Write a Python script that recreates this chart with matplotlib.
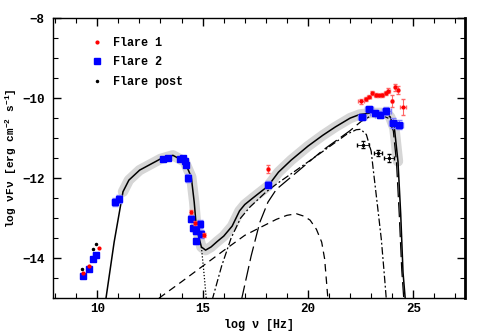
import matplotlib
matplotlib.use("Agg")
import matplotlib.pyplot as plt
from matplotlib.lines import Line2D
import numpy as np

plt.rcParams['font.family'] = ['Liberation Mono', 'DejaVu Sans']
plt.rcParams['font.weight'] = 'bold'
plt.rcParams['mathtext.fontset'] = 'custom'
plt.rcParams['mathtext.rm'] = 'Liberation Mono:bold'
plt.rcParams['mathtext.it'] = 'Liberation Mono:bold'
plt.rcParams['mathtext.bf'] = 'Liberation Mono:bold'

nan = np.nan

# --- data: Flare 1 (red)
f1_x = [9.32, 9.6, 10.08, 14.46, 14.62, 15.05, 18.1,
        22.53, 22.74, 22.89, 23.05, 23.21, 23.37, 23.53, 23.69, 23.81, 23.98, 24.11, 24.27, 24.51]
f1_y = [-14.37, -14.19, -13.75, -12.85, -13.11, -13.43, -11.78,
        -10.08, -10.02, -9.96, -9.87, -9.92, -9.93, -9.92, -9.86, -9.81, -10.06, -9.73, -9.79, -10.21]
f1_xerr = [nan, nan, nan, nan, nan, nan, 0.05,
           0.15, 0.08, 0.08, 0.08, 0.08, 0.08, 0.08, 0.08, 0.08, 0.05, 0.05, 0.05, 0.15]
f1_yerr = [nan, nan, nan, 0.05, 0.05, 0.05, 0.1,
           0.06, 0.05, 0.04, 0.04, 0.04, 0.04, 0.05, 0.05, 0.06, 0.15, 0.08, 0.1, 0.2]

# --- data: Flare 2 (blue)
f2_x = [9.32, 9.6, 9.79, 9.92, 10.82, 11.03,
        13.12, 13.35, 13.91, 14.07, 14.15, 14.23, 14.3,
        14.46, 14.54, 14.7, 14.86, 14.94, 14.7, 18.1,
        22.57, 22.89, 23.16, 23.4, 23.72, 24.03, 24.32]
f2_y = [-14.44, -14.27, -14.01, -13.92, -12.6, -12.53,
        -11.51, -11.49, -11.52, -11.5, -11.58, -11.66, -11.99,
        -13.01, -13.24, -13.32, -13.15, -13.4, -13.57, -12.16,
        -10.47, -10.27, -10.37, -10.41, -10.33, -10.62, -10.66]
f2_xerr = [0.1, 0.1, 0.1, 0.1, 0.1, 0.1,
           0.05, 0.05, 0.05, 0.05, 0.05, 0.05, 0.05,
           0.05, 0.05, 0.05, 0.05, 0.05, 0.05, 0.15,
           0.2, 0.2, 0.2, 0.2, 0.2, 0.2, 0.2]
f2_yerr = [0.03, 0.03, 0.03, 0.03, 0.1, 0.1,
           0.03, 0.03, 0.03, 0.05, 0.05, 0.05, 0.1,
           0.08, 0.08, 0.08, 0.1, 0.1, 0.08, 0.08,
           0.08, 0.08, 0.08, 0.08, 0.1, 0.12, 0.12]

# --- data: Flare post (black)
post_x = [9.29, 9.79, 9.92, 22.61, 23.32, 23.84]
post_y = [-14.27, -13.76, -13.65, -11.16, -11.37, -11.49]
post_xerr = [nan, nan, nan, 0.3, 0.2, 0.25]
post_yerr = [nan, nan, nan, 0.08, 0.08, 0.1]

# --- model curves
total_x = [10.40, 10.8, 11.22, 11.5, 12.01, 13.0, 13.59, 14.15, 14.46, 14.6, 14.7, 14.94,
           15.14, 15.4, 15.7, 16.0, 16.4, 16.75, 17.0, 17.4, 18.1, 18.6, 19.2, 20.0,
           20.7, 21.3, 22.0, 22.45, 23.0, 23.72, 23.9, 24.1, 24.27, 24.4, 24.51, 24.62]
total_y = [-15.05, -13.6, -12.34, -12.05, -11.8, -11.52, -11.43, -11.59, -11.97, -12.6, -13.22, -13.72,
           -13.8, -13.72, -13.58, -13.45, -13.2, -12.82, -12.66, -12.49, -12.2, -11.85, -11.55, -11.2,
           -10.93, -10.72, -10.5, -10.41, -10.37, -10.37, -10.47, -10.75, -11.58, -12.9, -14.36, -15.05]

hump_x = [12.93, 14.0, 15.0, 16.0, 17.0, 17.71, 18.5, 19.0, 19.45, 19.8, 20.1, 20.4, 20.65, 20.79, 20.95]
hump_y = [-15.0, -14.59, -14.2, -13.81, -13.43, -13.24, -13.03, -12.93, -12.89, -12.95, -13.05, -13.28,
          -13.6, -14.02, -15.05]

ssc_x = [15.45, 15.9, 16.35, 16.8, 17.25, 18.0, 18.5, 19.45, 20.71, 21.82, 22.29, 22.5, 22.77,
         23.0, 23.1, 23.3, 23.48, 23.62, 23.72]
ssc_y = [-15.05, -14.2, -13.5, -13.0, -12.72, -12.35, -12.15, -11.8, -11.33, -10.91, -10.79, -10.78,
         -10.91, -11.33, -11.8, -12.7, -13.53, -14.4, -15.05]

ec_x = [16.84, 17.3, 17.71, 18.1, 18.5, 19.45, 20.71, 21.98, 22.53, 22.93, 23.5, 23.8, 24.05,
        24.2, 24.33, 24.45, 24.55]
ec_y = [-15.05, -13.95, -13.11, -12.6, -12.28, -11.86, -11.3, -10.82, -10.58, -10.46, -10.43, -10.5,
        -10.82, -11.6, -12.9, -14.3, -15.05]

sync_x = [14.94, 15.05, 15.18]
sync_y = [-13.72, -14.3, -15.05]

fig = plt.figure(figsize=(4.91, 3.35), dpi=100)
ax = fig.add_axes([0.108, 0.110, 0.839, 0.836])

# grey uncertainty band around the total model
tx = np.array(total_x)
ty = np.array(total_y)
m = (tx >= 11.2) & (tx <= 24.35)
ax.plot(tx[m], ty[m], color='#d6d6d6', lw=7.5, solid_capstyle='round', solid_joinstyle='round', zorder=1)

ax.plot(hump_x, hump_y, color='k', lw=0.9, linestyle=(0, (6, 4)), zorder=2)
ax.plot(ssc_x, ssc_y, color='k', lw=0.9, linestyle=(0, (6, 2, 1.5, 2)), zorder=2)
ax.plot(ec_x, ec_y, color='k', lw=0.9, linestyle=(0, (12, 4)), zorder=2)
ax.plot(sync_x, sync_y, color='k', lw=0.9, linestyle=(0, (1, 1.5)), zorder=2)
ax.plot(total_x, total_y, color='k', lw=1.1, zorder=3)

ax.errorbar(f2_x, f2_y, xerr=f2_xerr, yerr=f2_yerr, fmt='s', color='#0000ff', ms=5,
            ecolor='#7f7fff', elinewidth=0.8, capsize=2, zorder=4)
ax.errorbar(f1_x, f1_y, xerr=f1_xerr, yerr=f1_yerr, fmt='o', color='#ff0000', ms=2,
            ecolor='#ff6666', elinewidth=0.8, capsize=1.5, zorder=5)
ax.errorbar(post_x, post_y, xerr=post_xerr, yerr=post_yerr, fmt='o', color='k', ms=1.5,
            ecolor='k', elinewidth=0.6, capsize=1.5, zorder=5)

handles = [Line2D([], [], marker='o', ms=2, ls='', color='#ff0000'),
           Line2D([], [], marker='s', ms=5, ls='', color='#0000ff'),
           Line2D([], [], marker='o', ms=1.5, ls='', color='k')]
ax.legend(handles, ['Flare 1', 'Flare 2', 'Flare post'], loc='upper left',
          bbox_to_anchor=(0.06, 0.97), frameon=False, prop={'size': 8.5, 'weight': 'bold'},
          handletextpad=0.6, labelspacing=0.62, handlelength=1.5)

ax.set_xlim(7.9, 27.45)
ax.set_ylim(-15, -8)
ax.set_xticks([10, 15, 20, 25])
ax.set_xticks(np.arange(8, 28, 1), minor=True)
ax.set_yticks([-14, -12, -10, -8])
ax.set_yticks(np.arange(-15, -8, 0.5), minor=True)
ax.tick_params(which='both', direction='in', top=True, right=True, labelsize=9)
ax.tick_params(which='major', length=6, width=1)
ax.tick_params(which='minor', length=3.5, width=0.8)
ax.tick_params(axis='y', pad=6)
for s in ['left', 'top', 'bottom']:
    ax.spines[s].set_linewidth(1.0)
ax.spines['right'].set_linewidth(2.0)

ax.set_xlabel(r'log ν [Hz]', fontsize=8.5, fontweight='bold', labelpad=3)
ax.set_ylabel(r'log νFν [erg cm$^{-2}$ s$^{-1}$]', fontsize=8, fontweight='bold', labelpad=2)

fig.savefig('out.png', dpi=100)
